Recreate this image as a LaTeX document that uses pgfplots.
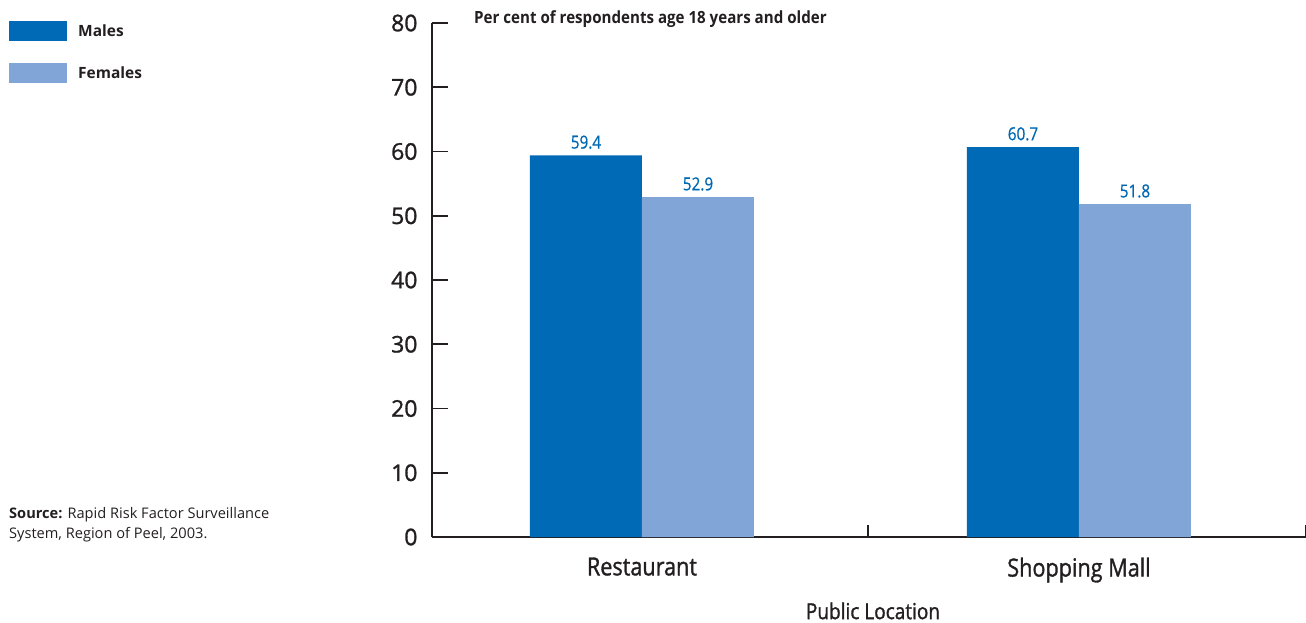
\documentclass[border=0pt]{standalone}
\usepackage{fontspec}
\setmainfont{Open Sans}
\newfontfamily\condfont[FakeStretch=0.85, FakeBold=0.6]{Open Sans}
\newfontfamily\catfont[FakeStretch=0.865, FakeBold=1.2]{Open Sans}
\newfontfamily\tickfont[FakeBold=1.2]{Open Sans}
\newfontfamily\titlefont[FakeStretch=0.9]{Open Sans}
\usepackage{pgfplots}
\pgfplotsset{compat=1.18}
\definecolor{males}{HTML}{006AB6}
\definecolor{females}{HTML}{80A5D6}
\definecolor{axisgray}{HTML}{231F20}
\definecolor{valblue}{HTML}{0068B3}
\begin{document}
\begin{tikzpicture}
\useasboundingbox (0,0) rectangle (1306pt,622pt);
\begin{axis}[
  scale only axis,
  width=874pt, height=514pt,
  at={(432pt,85pt)}, anchor=south west,
  xmin=-0.4805, xmax=1.5195,
  ymin=0, ymax=80,
  ytick={0,10,...,80},
  xtick={0,1},
  xticklabels={Restaurant, Shopping Mall},
  axis x line*=bottom, axis y line*=left,
  axis line style={axisgray, line width=1.8pt, -},
  every tick/.style={axisgray, line width=1.8pt},
  tick align=inside,
  major tick length=16pt,
  x tick style={draw=none},
  extra x ticks={0.517,1.5195},
  extra x tick labels={},
  extra x tick style={major tick length=12pt, tick align=inside, x tick style={draw=axisgray}},
  /pgf/number format/assume math mode=true,
  yticklabel style={font=\tickfont\fontsize{23}{27}\selectfont, text=axisgray, xshift=-11pt},
  xticklabel style={font=\catfont\fontsize{25}{29}\selectfont, text=axisgray, yshift=-1pt},
  xlabel={\catfont\fontsize{22}{25}\selectfont Public Location},
  xlabel style={text=axisgray, yshift=3pt, xshift=4pt},
  ybar=0pt, bar width=112pt,
  enlarge x limits=false,
  nodes near coords,
  every node near coord/.append style={font=\condfont\fontsize{18}{22}\selectfont, text=valblue, /pgf/number format/fixed, /pgf/number format/precision=1, /pgf/number format/fixed zerofill, yshift=3pt},
  legend style={at={(-0.484,1.004)}, anchor=north west, draw=none, fill=none, inner sep=0pt,
    font=\bfseries\fontsize{15.5}{18}\selectfont, text=axisgray, row sep=22pt, column sep=0pt,
    cells={anchor=west}},
  legend image code/.code={\fill[#1,draw=none] (0pt,-10pt) rectangle (58pt,10pt);},
  clip=false,
]
\addplot[fill=males, draw=none] coordinates {(0,59.4) (1,60.7)};
\addplot[fill=females, draw=none] coordinates {(0,52.9) (1,51.8)};
\legend{\hspace{9pt}Males, \hspace{9pt}Females}
\end{axis}
\node[anchor=base west, inner sep=0pt, text=axisgray, font=\titlefont\bfseries\fontsize{16.8}{20}\selectfont] at (474pt,598pt) {Per cent of respondents age 18 years and older};
\node[anchor=base west, inner sep=0pt, text=axisgray, align=left, font=\fontsize{14.6}{20}\selectfont] at (9pt,84pt) {\textbf{Source:} Rapid Risk Factor Surveillance\\System, Region of Peel, 2003.};
\end{tikzpicture}
\end{document}
